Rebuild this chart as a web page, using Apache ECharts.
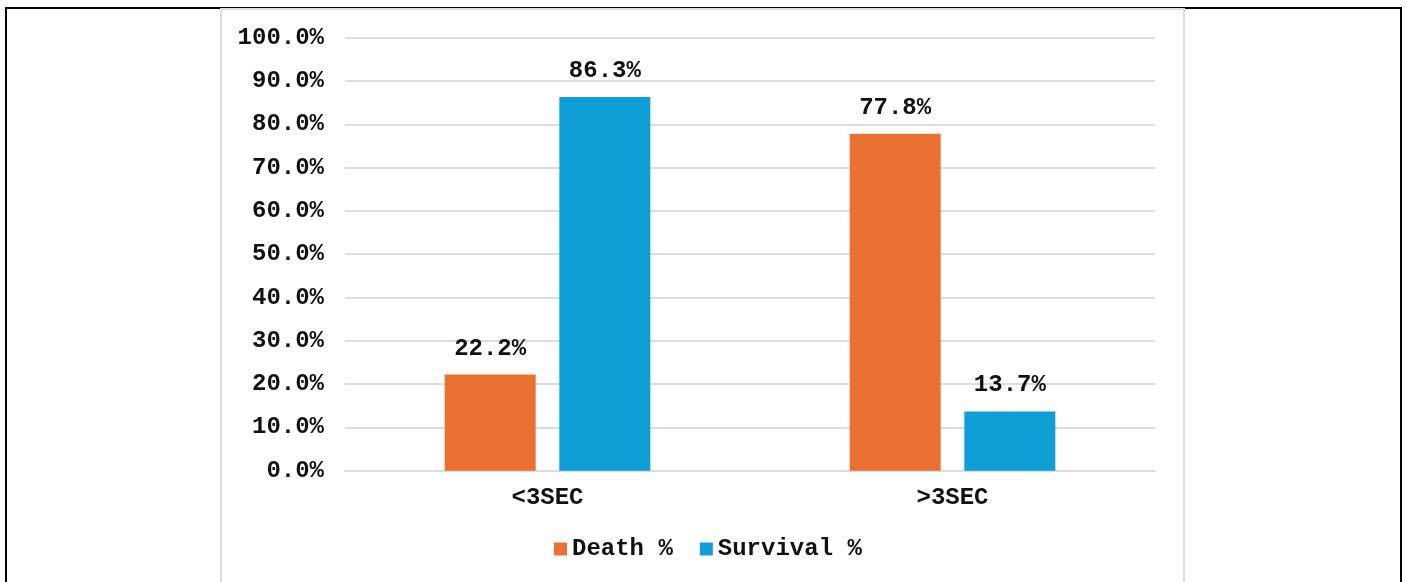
<!DOCTYPE html>
<html>
<head>
<meta charset="utf-8">
<script src="https://cdn.jsdelivr.net/npm/echarts@6/dist/echarts.min.js"></script>
<style>
  html, body { margin: 0; padding: 0; background: #fff; }
  body { width: 1405px; height: 582px; position: relative; overflow: hidden; }
  #frame {
    position: absolute; left: 5px; top: 7px; width: 1397px; height: 600px;
    border: 2px solid #000; box-sizing: border-box;
  }
  #panel {
    position: absolute; left: 220px; top: 8px; width: 965px; height: 600px;
    border: 2px solid #dcdcdc; box-sizing: border-box; background: #fff;
  }
  #chart { position: absolute; left: 0; top: 0; width: 1405px; height: 582px; }
</style>
</head>
<body>
<div id="frame"></div>
<div id="panel"></div>
<div id="chart"></div>
<script>
// Outcome by time group, in percent
const categories = ['<3SEC', '>3SEC'];
const deathPct = [22.2, 77.8];
const survivalPct = [86.3, 13.7];
const seriesNames = ['Death %', 'Survival %'];

const FONT = "'Courier New', 'Liberation Mono', monospace";
const textStyle = { fontFamily: FONT, fontWeight: 'bold', fontSize: 24, color: '#111' };

const chart = echarts.init(document.getElementById('chart'), null, { renderer: 'canvas' });

const barLabel = {
  show: true,
  position: 'top',
  distance: 14,
  ...textStyle,
  formatter: p => p.value.toFixed(1) + '%'
};

chart.setOption({
  animation: false,
  backgroundColor: 'transparent',
  grid: { left: 345, right: 250, top: 37.7, bottom: 111.3, containLabel: false },
  legend: {
    left: 554,
    top: 537,
    padding: 0,
    itemWidth: 13,
    itemHeight: 13,
    itemGap: 27,
    icon: 'rect',
    textStyle: { ...textStyle },
    data: seriesNames
  },
  xAxis: {
    type: 'category',
    data: categories,
    axisLine: { show: true, lineStyle: { color: '#dcdcdc', width: 2 } },
    axisTick: { show: false },
    axisLabel: { ...textStyle, margin: 15 }
  },
  yAxis: {
    type: 'value',
    min: 0,
    max: 100,
    interval: 10,
    axisLine: { show: false },
    axisTick: { show: false },
    splitLine: { show: true, lineStyle: { color: '#dcdcdc', width: 2 } },
    axisLabel: { ...textStyle, margin: 21, formatter: v => v.toFixed(1) + '%' }
  },
  series: [
    {
      name: seriesNames[0],
      type: 'bar',
      data: deathPct,
      barWidth: 91,
      barGap: '26%',
      itemStyle: { color: '#E97132' },
      label: barLabel
    },
    {
      name: seriesNames[1],
      type: 'bar',
      data: survivalPct,
      barWidth: 91,
      barGap: '26%',
      itemStyle: { color: '#0F9ED5' },
      label: barLabel
    }
  ]
});
</script>
</body>
</html>
